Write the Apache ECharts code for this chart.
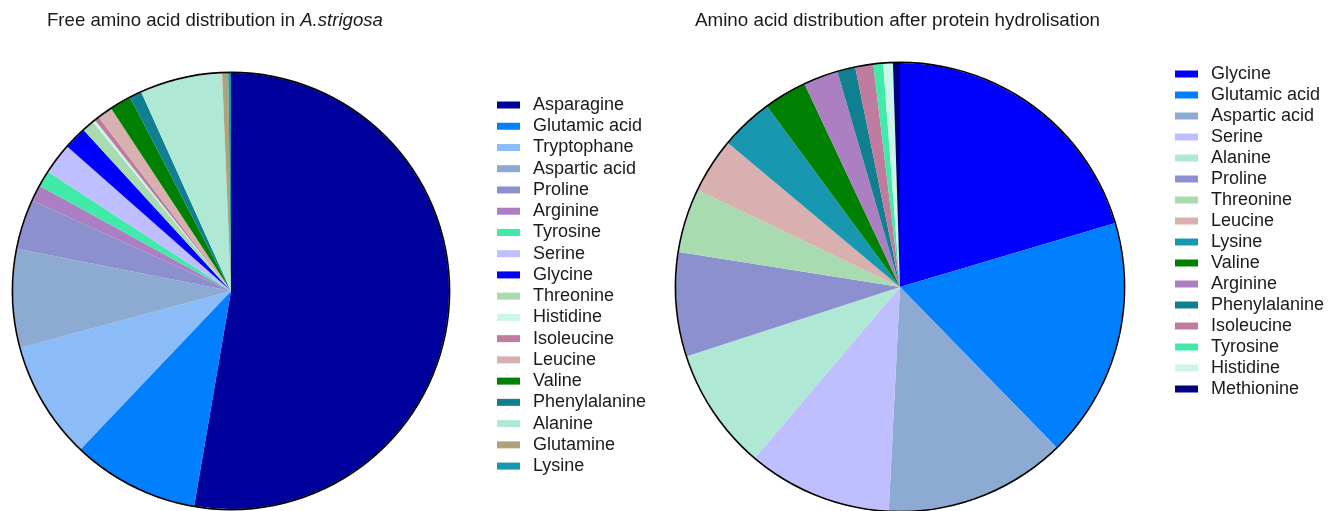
<!DOCTYPE html>
<html>
<head>
<meta charset="utf-8">
<script src="https://cdn.jsdelivr.net/npm/echarts@6/dist/echarts.min.js"></script>
<style>
  html, body { margin: 0; padding: 0; background: #fff; }
  #chart { width: 1330px; height: 511px; }
</style>
</head>
<body>
<div id="chart"></div>
<script>
// ---- Data ----
const leftTitle = 'Free amino acid distribution in ';
const leftTitleItalic = 'A.strigosa';
const rightTitle = 'Amino acid distribution after protein hydrolisation';

const freeNames = ['Asparagine', 'Glutamic acid', 'Tryptophane', 'Aspartic acid', 'Proline',
  'Arginine', 'Tyrosine', 'Serine', 'Glycine', 'Threonine', 'Histidine', 'Isoleucine',
  'Leucine', 'Valine', 'Phenylalanine', 'Alanine', 'Glutamine', 'Lysine'];
const freeValues = [52.7, 9.4, 8.7, 7.3, 3.7, 1.2, 1.2, 2.3, 1.7, 0.9, 0.2, 0.35,
  1.1, 1.6, 0.9, 6.1, 0.45, 0.2];

const hydroNames = ['Glycine', 'Glutamic acid', 'Aspartic acid', 'Serine', 'Alanine', 'Proline',
  'Threonine', 'Leucine', 'Lysine', 'Valine', 'Arginine', 'Phenylalanine', 'Isoleucine',
  'Tyrosine', 'Histidine', 'Methionine'];
const hydroValues = [20.4, 17.3, 13.1, 10.4, 8.8, 7.5, 4.6, 4.0, 3.8, 3.1, 2.5, 1.3, 1.3,
  0.7, 0.7, 0.5];

// ---- Styles ----
const colorMap = {
  'Asparagine': '#00009c',
  'Glutamic acid': '#0080ff',
  'Tryptophane': '#8cbcf8',
  'Aspartic acid': '#8caad2',
  'Proline': '#8c90ce',
  'Arginine': '#ac7ec2',
  'Tyrosine': '#40eaa8',
  'Serine': '#bfbfff',
  'Glycine': '#0000ff',
  'Threonine': '#a8dcb0',
  'Histidine': '#ccf6e8',
  'Isoleucine': '#c07c9e',
  'Leucine': '#d8b0b0',
  'Valine': '#008000',
  'Phenylalanine': '#108090',
  'Alanine': '#b0e8d6',
  'Glutamine': '#b0a27a',
  'Lysine': '#1898b0',
  'Methionine': '#000080'
};

const FONT = '"Liberation Sans", Arial, sans-serif';

function pieData(names, values) {
  return names.map((n, i) => ({ name: n, value: values[i], itemStyle: { color: colorMap[n] } }));
}

function outline(center, r) {
  return {
    type: 'pie', silent: true, center: center, radius: [r - 0.2, r + 1.4],
    startAngle: 90, label: { show: false }, labelLine: { show: false },
    data: [{ name: '__outline', value: 1, itemStyle: { color: '#000' } }],
    emphasis: { disabled: true }
  };
}

function legendCfg(left, top, gap, names) {
  return {
    orient: 'vertical',
    icon: 'rect',
    itemWidth: 23,
    itemHeight: 7,
    itemGap: gap,
    selectedMode: false,
    left: left, top: top, padding: 0,
    textStyle: {
      fontFamily: FONT, fontSize: 18, color: '#1a1a1a', lineHeight: 18,
      padding: [0, 0, 0, 8]
    },
    data: names
  };
}

const chart = echarts.init(document.getElementById('chart'), null, { renderer: 'canvas' });
chart.setOption({
  animation: false,
  backgroundColor: '#fff',
  title: [
    {
      text: '{n|' + leftTitle + '}{i|' + leftTitleItalic + '}',
      left: 47, top: 11, padding: 0,
      textStyle: {
        fontWeight: 'normal',
        rich: {
          n: { fontFamily: FONT, fontSize: 18.6, fontWeight: 'normal', color: '#1a1a1a' },
          i: { fontFamily: FONT, fontSize: 18.6, fontWeight: 'normal', color: '#1a1a1a', fontStyle: 'italic' }
        }
      }
    },
    {
      text: rightTitle,
      left: 695, top: 11, padding: 0,
      textStyle: { fontFamily: FONT, fontSize: 18.8, fontWeight: 'normal', color: '#1a1a1a' }
    }
  ],
  legend: [
    legendCfg(497, 96, 3.24, freeNames),
    legendCfg(1175, 65, 3.0, hydroNames)
  ],
  series: [
    {
      type: 'pie', name: 'free', center: [231, 291], radius: 218,
      startAngle: 90, clockwise: true, avoidLabelOverlap: false,
      label: { show: false }, labelLine: { show: false },
      itemStyle: { borderWidth: 0 },
      emphasis: { disabled: true },
      data: pieData(freeNames, freeValues)
    },
    outline([231, 291], 218),
    {
      type: 'pie', name: 'hydro', center: [900, 287], radius: 224,
      startAngle: 90, clockwise: true, avoidLabelOverlap: false,
      label: { show: false }, labelLine: { show: false },
      itemStyle: { borderWidth: 0 },
      emphasis: { disabled: true },
      data: pieData(hydroNames, hydroValues)
    },
    outline([900, 287], 224)
  ]
});
</script>
</body>
</html>
